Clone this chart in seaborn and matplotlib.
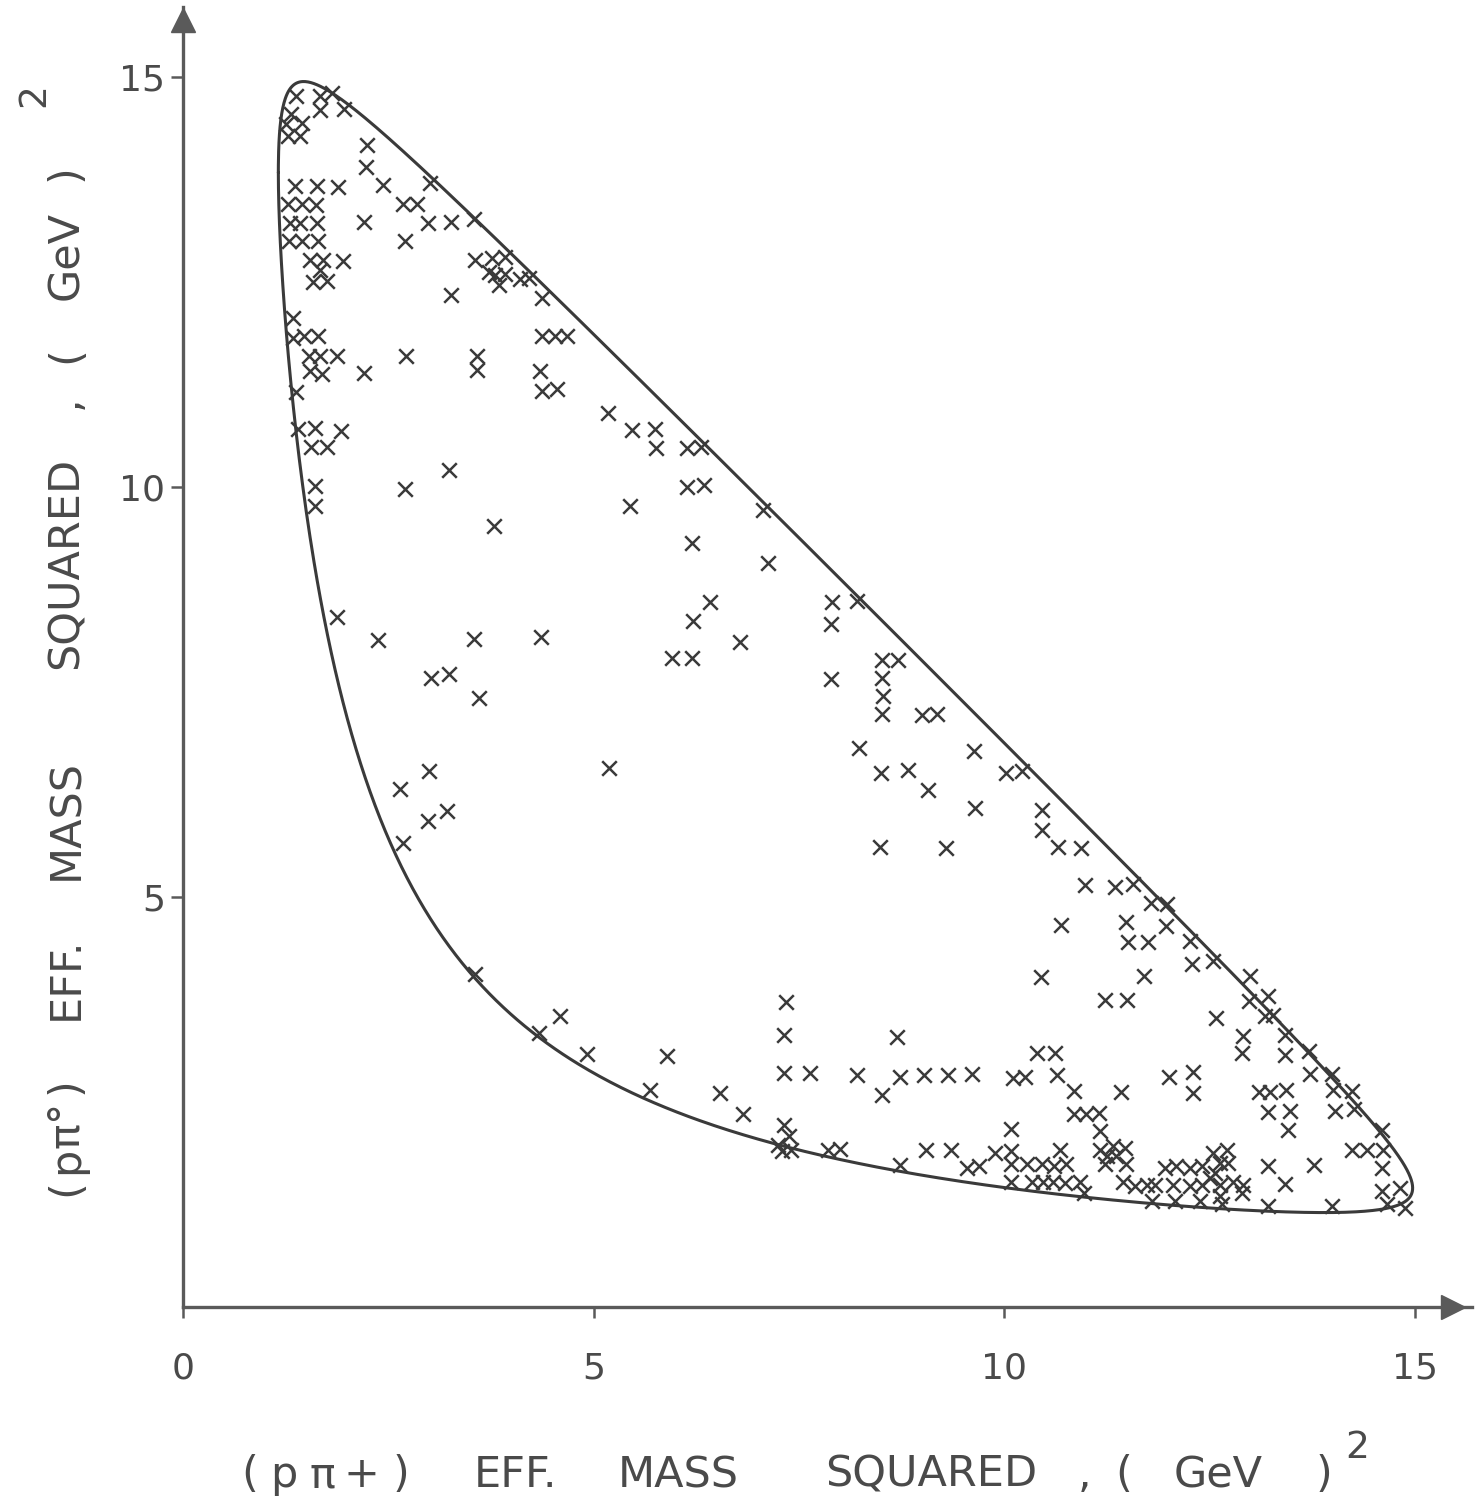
import numpy as np
import pandas as pd
import matplotlib
matplotlib.use("Agg")
import matplotlib.pyplot as plt
import seaborn as sns

# events: (p pi+) and (p pi0) effective mass squared, GeV^2
m2_p_piplus = [
    1.38, 1.67, 1.81, 1.67, 1.96, 1.32, 1.45, 1.26, 1.28, 1.43,
    2.24, 2.23, 1.36, 1.63, 1.89, 2.44, 3.01, 1.28, 1.45, 1.62,
    2.68, 2.85, 1.30, 1.43, 1.63, 2.20, 2.99, 3.27, 1.29, 1.45,
    1.64, 2.70, 1.55, 1.71, 1.95, 1.67, 1.58, 1.75, 3.27, 1.34,
    1.34, 1.47, 1.65, 1.53, 1.67, 1.87, 2.72, 1.55, 1.69, 2.20,
    1.38, 1.40, 1.61, 1.92, 1.56, 1.75, 3.24, 2.70, 1.61, 1.61,
    3.79,
    3.54, 3.56, 3.76, 3.92, 3.73, 3.80, 3.92, 3.85, 4.10, 4.21,
    4.37, 4.37, 4.53, 4.68, 3.58, 3.58, 4.35, 4.37, 4.56, 5.18,
    6.20, 1.87, 2.38, 3.54, 4.36, 6.42, 6.21, 6.78, 5.95, 6.20,
    3.02, 3.24, 3.60, 3.00, 5.19, 2.64, 2.99, 3.22, 2.68,
    5.47, 5.75, 5.76, 6.14, 6.31, 6.14, 6.35, 5.44, 7.07, 7.12,
    7.91, 8.21, 7.89, 7.89, 8.51, 8.71, 8.51, 8.52, 8.51, 9.00,
    9.18, 8.23, 9.64, 8.50, 8.83, 9.07, 9.65, 8.49, 9.29,
    3.56, 4.59, 4.33, 4.92, 5.90, 5.69, 6.54, 6.82,
    7.35, 7.32, 8.70, 7.32, 7.64, 8.21, 8.73, 9.02, 9.32, 9.61,
    8.51, 7.32, 7.38, 7.25, 7.29, 7.41, 7.86, 8.00,
    8.73, 9.05, 9.35, 9.55, 9.70, 9.89,
    10.03, 10.22, 10.46, 10.46, 10.66, 10.94, 10.99, 11.35, 11.57, 11.79,
    11.98, 10.70, 11.49, 11.97, 11.51, 11.75, 12.26, 12.29, 12.55, 10.45,
    11.71, 11.23, 11.50, 12.58, 10.40, 10.62,
    10.11, 10.26, 10.64, 10.85, 11.42, 12.01, 12.30, 12.30, 10.85, 11.00,
    11.16, 11.17, 10.09, 10.09, 10.68, 11.17, 11.33, 11.47, 11.25, 11.37,
    11.23, 11.49, 10.09, 10.28, 10.46, 10.61, 10.76, 10.09, 10.34, 10.48,
    10.60, 10.74, 10.93, 10.97, 11.45, 11.60, 11.74, 11.84, 11.80, 11.96,
    12.10, 12.27, 12.41, 12.55, 12.06, 12.27, 12.41, 12.08, 12.39,
    13.00, 12.98, 13.22, 13.18, 13.28, 12.91, 12.90, 13.42, 13.42, 13.71,
    13.73, 13.99, 14.01, 14.24, 13.10, 13.24, 13.43,
    13.22, 13.48, 13.46, 14.03, 14.26, 14.60, 14.24, 14.42, 14.62, 14.60,
    13.22, 13.77, 13.42, 14.60, 14.82, 13.22, 14.00, 14.66, 14.88,
    12.71, 12.63, 12.57, 12.73, 12.51, 12.63, 12.79, 12.91, 12.90, 12.63, 12.65,
]
m2_p_pizero = [
    14.76, 14.77, 14.80, 14.60, 14.61, 14.54, 14.44, 14.42, 14.28, 14.28,
    14.17, 13.90, 13.67, 13.67, 13.65, 13.68, 13.70, 13.45, 13.45, 13.44,
    13.45, 13.45, 13.22, 13.22, 13.22, 13.23, 13.22, 13.23, 13.00, 13.00,
    13.00, 13.00, 12.77, 12.77, 12.75, 12.64, 12.50, 12.51, 12.34, 12.06,
    11.82, 11.84, 11.84, 11.59, 11.59, 11.59, 11.59, 11.41, 11.38, 11.39,
    11.15, 10.70, 10.72, 10.68, 10.48, 10.48, 10.21, 9.97, 10.01, 9.76,
    9.52,
    13.26, 12.77, 12.79, 12.80, 12.62, 12.58, 12.60, 12.46, 12.53, 12.55,
    12.30, 11.84, 11.84, 11.84, 11.59, 11.42, 11.41, 11.17, 11.19, 10.90,
    9.32, 8.41, 8.13, 8.15, 8.17, 8.59, 8.36, 8.11, 7.91, 7.91,
    7.67, 7.72, 7.43, 6.54, 6.57, 6.31, 5.92, 6.05, 5.66,
    10.69, 10.70, 10.47, 10.47, 10.48, 10.00, 10.02, 9.76, 9.72, 9.07,
    8.59, 8.61, 8.33, 7.66, 7.89, 7.89, 7.67, 7.45, 7.23, 7.22,
    7.23, 6.81, 6.78, 6.51, 6.55, 6.30, 6.09, 5.61, 5.60,
    4.06, 3.55, 3.34, 3.08, 3.06, 2.65, 2.61, 2.35,
    3.72, 3.32, 3.29, 2.85, 2.85, 2.83, 2.81, 2.83, 2.83, 2.84,
    2.59, 2.22, 2.08, 1.98, 1.90, 1.92, 1.92, 1.93,
    1.73, 1.92, 1.92, 1.70, 1.72, 1.88,
    6.51, 6.54, 6.06, 5.81, 5.61, 5.60, 5.15, 5.12, 5.16, 4.93,
    4.91, 4.66, 4.70, 4.64, 4.45, 4.45, 4.46, 4.18, 4.22, 4.02,
    4.03, 3.74, 3.74, 3.52, 3.10, 3.10,
    2.79, 2.80, 2.83, 2.63, 2.62, 2.81, 2.87, 2.61, 2.35, 2.35,
    2.37, 2.14, 2.17, 1.90, 1.92, 1.92, 1.96, 1.94, 1.84, 1.84,
    1.74, 1.74, 1.74, 1.74, 1.74, 1.72, 1.74, 1.53, 1.52, 1.52,
    1.52, 1.51, 1.53, 1.39, 1.52, 1.47, 1.49, 1.49, 1.29, 1.70,
    1.72, 1.70, 1.72, 1.88, 1.49, 1.47, 1.49, 1.29, 1.29,
    4.03, 3.73, 3.79, 3.55, 3.56, 3.30, 3.10, 3.32, 3.07, 3.12,
    2.84, 2.84, 2.64, 2.63, 2.62, 2.62, 2.65,
    2.38, 2.39, 2.16, 2.39, 2.41, 2.16, 1.92, 1.92, 1.91, 1.70,
    1.72, 1.73, 1.50, 1.42, 1.45, 1.23, 1.23, 1.26, 1.21,
    1.92, 1.76, 1.63, 1.76, 1.57, 1.49, 1.53, 1.49, 1.39, 1.35, 1.25,
]

x_ticks = [0, 5, 10, 15]
y_ticks = [5, 10, 15]

# axis titles, split into the hand-lettered pieces
x_title_parts = ["(", "p", "\u03c0", "+", ")", "EFF.", "MASS", "SQUARED",
                 ",", "(", "GeV", ")"]
y_title_parts = ["(", "p", "\u03c0\u00b0", ")", "EFF.", "MASS", "SQUARED",
                 ",", "(", "GeV", ")"]
title_power = "2"

# masses for the kinematic (Dalitz) boundary, GeV
M_TOTAL = 4.005
M_PROTON = 0.938
M_PIPLUS = 0.1396
M_PIZERO = 0.1350

INK = "#3a3a3a"
AXIS = "#5a5a5a"
TEXT = "#4a4a4a"
W, H = 1482, 1499


def dalitz_boundary(n=600):
    lo = (M_PROTON + M_PIPLUS) ** 2
    hi = (M_TOTAL - M_PIZERO) ** 2
    t = np.linspace(0, np.pi, n)
    s12 = lo + (hi - lo) * (1 - np.cos(t)) / 2
    m12 = np.sqrt(s12)
    e1 = (s12 + M_PROTON**2 - M_PIPLUS**2) / (2 * m12)
    e3 = (M_TOTAL**2 - s12 - M_PIZERO**2) / (2 * m12)
    p1 = np.sqrt(np.clip(e1**2 - M_PROTON**2, 0, None))
    p3 = np.sqrt(np.clip(e3**2 - M_PIZERO**2, 0, None))
    s13_max = (e1 + e3) ** 2 - (p1 - p3) ** 2
    s13_min = (e1 + e3) ** 2 - (p1 + p3) ** 2
    bx = np.concatenate([s12, s12[::-1]])
    by = np.concatenate([s13_min, s13_max[::-1]])
    return bx, by


sns.set_style("ticks")
plt.rcParams["font.family"] = ["DejaVu Sans"]

events = pd.DataFrame({"ppip": m2_p_piplus, "ppi0": m2_p_pizero})
bx, by = dalitz_boundary()
boundary = pd.DataFrame({"x": bx, "y": by})

fig = plt.figure(figsize=(W / 100, H / 100), dpi=100)
ax = fig.add_axes([183 / W, 192 / H, 1289 / W, 1300 / H])

sns.lineplot(data=boundary, x="x", y="y", sort=False, estimator=None,
             color=INK, linewidth=2.2, ax=ax)
sns.scatterplot(data=events, x="ppip", y="ppi0", marker="x", s=110,
                color=INK, linewidth=1.8, ax=ax)

ax.set_xlim(0, 15.7)
ax.set_ylim(0, 15.85)
ax.set_xticks(x_ticks)
ax.set_yticks(y_ticks)
ax.set_xlabel("")
ax.set_ylabel("")

for side in ["top", "right"]:
    ax.spines[side].set_visible(False)
for side in ["left", "bottom"]:
    ax.spines[side].set_color(AXIS)
    ax.spines[side].set_linewidth(2.4)

ax.tick_params(axis="x", length=8, width=1.8, pad=24, labelsize=26,
               color=AXIS, labelcolor=TEXT)
ax.tick_params(axis="y", length=9, width=1.8, pad=4, labelsize=26,
               color=AXIS, labelcolor=TEXT)

# arrow heads on the axes
ax.plot(0.985, 0, marker=">", markersize=17, color=AXIS,
        transform=ax.get_yaxis_transform(), clip_on=False)
ax.plot(0, 0.99, marker="^", markersize=17, color=AXIS,
        transform=ax.get_xaxis_transform(), clip_on=False)

# x title: each lettered piece at its pixel centre, sitting on one baseline
x_part_px = [250, 284, 322, 361, 401, 515, 678, 931, 1085, 1124, 1218, 1324]
for part, px in zip(x_title_parts, x_part_px):
    fig.text(px / W, 1 - 1487 / H, part, fontsize=31, color=TEXT,
             ha="center", va="baseline")
fig.text(1357 / W, 1 - 1458 / H, title_power, fontsize=27, color=TEXT,
         ha="center", va="baseline")

# y title, rotated, baseline on the right at x=78 px
y_part_py = [1188, 1160, 1124, 1086, 978, 820, 563, 402, 355, 255, 173]
for part, py in zip(y_title_parts, y_part_py):
    fig.text(78 / W, 1 - py / H, part, fontsize=31, color=TEXT,
             ha="center", va="baseline", rotation=90, rotation_mode="anchor")
fig.text(44 / W, 1 - 95 / H, title_power, fontsize=27, color=TEXT,
         ha="center", va="baseline", rotation=90, rotation_mode="anchor")

fig.savefig("out.png", dpi=100)
